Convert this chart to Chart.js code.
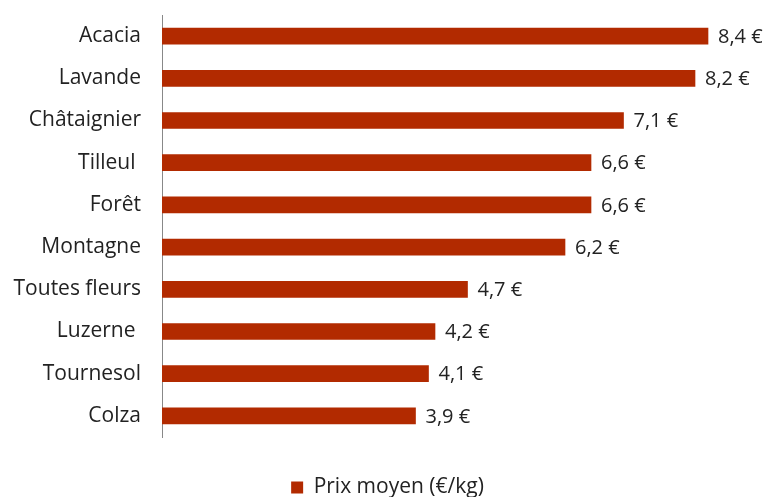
<!DOCTYPE html>
<html><head><meta charset="utf-8">
<script src="https://cdn.jsdelivr.net/npm/chart.js@4/dist/chart.umd.min.js"></script>
<style>html,body{margin:0;padding:0;background:#fff}#w{width:767px;height:497px}</style>
</head><body><div id="w"><canvas id="c"></canvas></div>
<script>
const categories = ["Acacia","Lavande","Châtaignier","Tilleul ","Forêt","Montagne","Toutes fleurs","Luzerne ","Tournesol","Colza"];
const prices = [8.4,8.2,7.1,6.6,6.6,6.2,4.7,4.2,4.1,3.9];
const seriesLabel = "Prix moyen (€/kg)";
const barColor = "#B22A00";
const FONT = "'Open Sans'";

const valueLabels = {
  id:'valueLabels',
  afterDatasetsDraw(chart){
    const ctx = chart.ctx;
    const meta = chart.getDatasetMeta(0);
    ctx.save();
    ctx.font = '20px ' + FONT;
    ctx.fillStyle = '#222';
    ctx.textBaseline = 'middle';
    ctx.textAlign = 'left';
    meta.data.forEach((bar,i)=>{
      ctx.fillText(prices[i].toFixed(1).replace('.',',') + ' €', bar.x + 10, bar.y + 1);
    });
    ctx.restore();
  }
};
const legendShift = {
  id:'legendShift',
  afterLayout(chart){ const l = chart.legend; if(l){ l.left += 14; l.right += 14; } }
};

new Chart(document.getElementById('c'), {
  type:'bar',
  data:{labels:categories, datasets:[{label:seriesLabel, data:prices, backgroundColor:barColor, barThickness:16}]},
  options:{
    indexAxis:'y', responsive:true, maintainAspectRatio:false, animation:false,
    devicePixelRatio:1,
    layout:{padding:{top:15,right:20,left:0,bottom:-11}},
    scales:{
      x:{display:true, min:0, max:9, grid:{display:false,drawTicks:false}, border:{display:false}, ticks:{display:false},
         afterFit(s){ s.height = 38; s.paddingLeft=0; s.paddingRight=0; }},
      y:{
        grid:{display:false, drawTicks:false},
        border:{display:true,color:'#888',width:1},
        ticks:{font:{family:FONT,size:21},color:'#222',padding:21},
        afterFit(s){ s.width = 162; s.paddingTop = 0; s.paddingBottom = 0; }
      }
    },
    plugins:{
      legend:{position:'bottom',labels:{font:{family:FONT,size:21},color:'#222',boxWidth:12,boxHeight:12,padding:2}},
      tooltip:{enabled:false}
    }
  },
  plugins:[valueLabels, legendShift]
});
</script></body></html>
